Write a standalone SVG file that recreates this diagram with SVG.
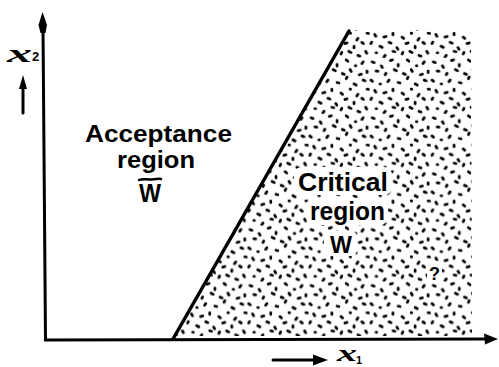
<svg xmlns="http://www.w3.org/2000/svg" width="499" height="367" viewBox="0 0 499 367">
<style>
.lbl{font-family:"Liberation Sans",Arial,sans-serif;font-weight:bold;fill:#000}
.sx{font-family:"Liberation Serif","Times New Roman",serif;font-style:italic;font-weight:bold;fill:#000}
.ax{stroke:#000;fill:none;stroke-linecap:round}
</style>
<defs>
<pattern id="dots" patternUnits="userSpaceOnUse" width="47" height="43" patternTransform="translate(3 2) scale(1.3)">
<path stroke="#000" stroke-width="2.1" stroke-linecap="round" fill="none" d="M2 3l1.5.6M9 6l.8 1.4M16 2l1.6-.5M22 5l0 1.3M29 1.5l1.2 1M36 6l.4.1M42 3l-.9 1.3M5 10l1.4.2M12 13l.6-1.2M19 9l1.7.9M26 12l1.5.6M32 9l.8 1.4M39 13l1.6-.5M45 10l0 1.3M1 17l1.2 1M8 20l.4.1M15 17l-.9 1.3M22 19l1.4.2M29 16l.6-1.2M35 20l1.7.9M42 17l1.5.6M4 25l.8 1.4M11 27l1.6-.5M18 24l0 1.3M25 27l1.2 1M32 24l.4.1M38 28l-.9 1.3M45 24l1.4.2M1 32l.6-1.2M8 34l1.7.9M15 31l1.5.6M21 35l.8 1.4M28 32l1.6-.5M35 34l0 1.3M41 31l1.2 1M5 39l.4.1M12 41l-.9 1.3M18 38l1.4.2M25 40l.6-1.2M31 38l1.7.9M38 41l1.5.6M44 38l.8 1.4"/>
</pattern>
<clipPath id="crit"><polygon points="176,336 351,30 471,30 472,336"/></clipPath>
</defs>
<g id="critical-region">
<rect x="170" y="26" width="306" height="314" fill="url(#dots)" clip-path="url(#crit)"/>
<rect x="294" y="167" width="98" height="28" rx="8" fill="#fff"/>
<rect x="306" y="198" width="82" height="27" rx="8" fill="#fff"/>
<rect x="324" y="231" width="33" height="25" rx="6" fill="#fff"/>
<rect x="427" y="261" width="15" height="22" rx="4" fill="#fff"/>
</g>
<g id="axes">
<path class="ax" stroke-width="3" d="M43 28L45.5 340L486 339"/>
<path d="M42.5 12L47 25L45.5 33L40.5 33L38.5 25Z" fill="#000"/>
<path d="M498 339L484 333.5L485 344.5Z" fill="#000"/>
<path class="ax" stroke-width="3.5" d="M173 339L349 31"/>
</g>
<g id="y-label">
<text class="sx" x="7" y="62" font-size="26" textLength="25" lengthAdjust="spacingAndGlyphs">x</text>
<text class="lbl" x="32" y="61" font-size="13">2</text>
<path class="ax" stroke-width="3" d="M23 113L23 86"/>
<path d="M23 75L27 89L19 89Z" fill="#000"/>
</g>
<g id="x-label">
<path class="ax" stroke-width="3" d="M273 360L315 360"/>
<path d="M328 360L313 354.5L313 365.5Z" fill="#000"/>
<text class="sx" x="337" y="361" font-size="24" textLength="20" lengthAdjust="spacingAndGlyphs">x</text>
<text class="lbl" x="356" y="364" font-size="11">1</text>
</g>
<g id="acceptance-region">
<text class="lbl" x="85" y="142" font-size="23" textLength="147" lengthAdjust="spacingAndGlyphs">Acceptance</text>
<text class="lbl" x="117" y="168" font-size="23" textLength="78" lengthAdjust="spacingAndGlyphs">region</text>
<text class="lbl" x="139" y="202" font-size="25" textLength="22" lengthAdjust="spacingAndGlyphs">W</text>
<path class="ax" stroke-width="2.5" d="M139 180C143 178 148 180 152 179.5C156 179 159 178.5 161 179"/>
</g>
<g id="critical-label">
<text class="lbl" x="298" y="191" font-size="25" textLength="90" lengthAdjust="spacingAndGlyphs">Critical</text>
<text class="lbl" x="310" y="220" font-size="25" textLength="75" lengthAdjust="spacingAndGlyphs">region</text>
<text class="lbl" x="330" y="253" font-size="24" textLength="22" lengthAdjust="spacingAndGlyphs">W</text>
<text class="lbl" x="429" y="280" font-size="19" textLength="11" lengthAdjust="spacingAndGlyphs">?</text>
</g>
</svg>
